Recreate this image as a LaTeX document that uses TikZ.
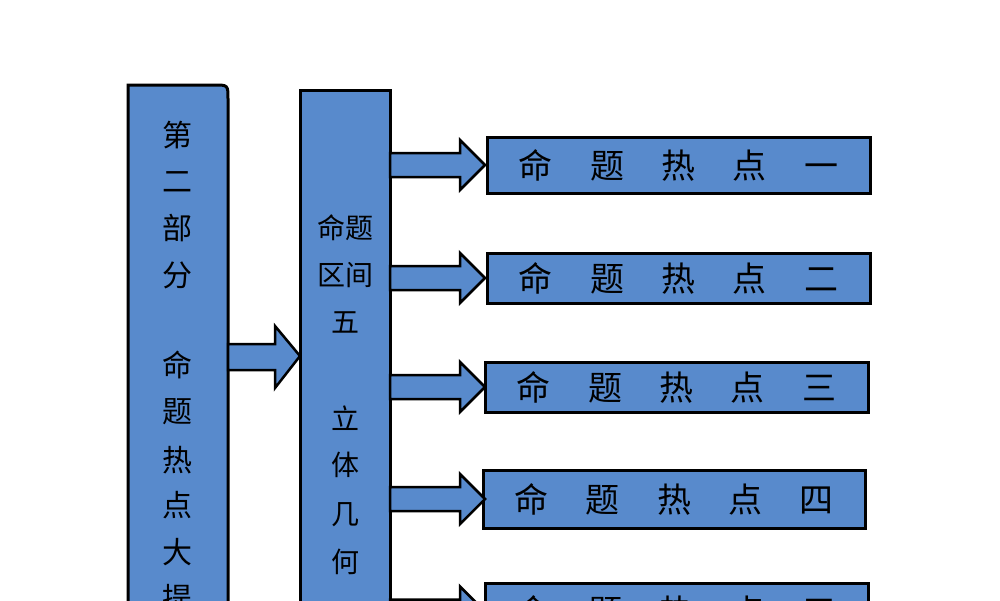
\documentclass[tikz,border=0pt]{standalone}
\usepackage{fontspec}
\newfontfamily\cjk{Noto Sans CJK SC}
\definecolor{bx}{RGB}{88,138,204}
\begin{document}
\begin{tikzpicture}[x=1pt,y=-1pt,
  box/.style={draw=black,line width=3pt,fill=bx},
  arr/.style={draw=black,line width=2.5pt,fill=bx,line join=miter},
  lab/.style={font=\cjk\fontsize{34}{34}\selectfont}]
\useasboundingbox (0,0) rectangle (1000,600);
\clip (0,0) rectangle (1000,600);
% left box
\draw[box] (128,640) -- (128,85) -- (214,85) .. controls (228,85) .. (228,99) -- (228,640);
\foreach \c/\y in {第/135,二/182,部/228,分/275,命/365,题/412,热/460,点/505,大/552,提/598}
  \node[font=\cjk\fontsize{30}{30}\selectfont] at (177,\y) {\c};
% big arrow
\draw[arr] (228,344) -- (275,344) -- (275,326) -- (300,356) -- (275,388) -- (275,370) -- (228,370) -- cycle;
% middle box
\draw[box] (300,640) -- (300,90) -- (390,90) -- (390,640);
\foreach \c/\x/\y in {命题/345/228,区间/345/275,五/345/322,立/345/418,体/345/465,几/345/515,何/345/562}
  \node[font=\cjk\fontsize{28}{28}\selectfont] at (\x,\y) {\c};
% right boxes
\foreach \n/\xa/\ya/\xb/\yb/\t in {1/487/137/870/193/一,2/487/253/870/303/二,3/485/362/868/412/三,4/483/470/865/528/四,5/485/583/868/640/五}{
  \draw[box] (\xa,\ya) rectangle (\xb,\yb);
  \node[lab] at ({(\xa+\xb)/2},{(\ya+\yb)/2}) {命\hspace{1.1em}题\hspace{1.1em}热\hspace{1.1em}点\hspace{1.1em}\t};
  \pgfmathsetmacro\m{(\ya+\yb)/2}
  \draw[arr] (390,\m-12) -- (460,\m-12) -- (460,\m-25) -- (485,\m) -- (460,\m+25) -- (460,\m+12) -- (390,\m+12) -- cycle;
}
\end{tikzpicture}
\end{document}
